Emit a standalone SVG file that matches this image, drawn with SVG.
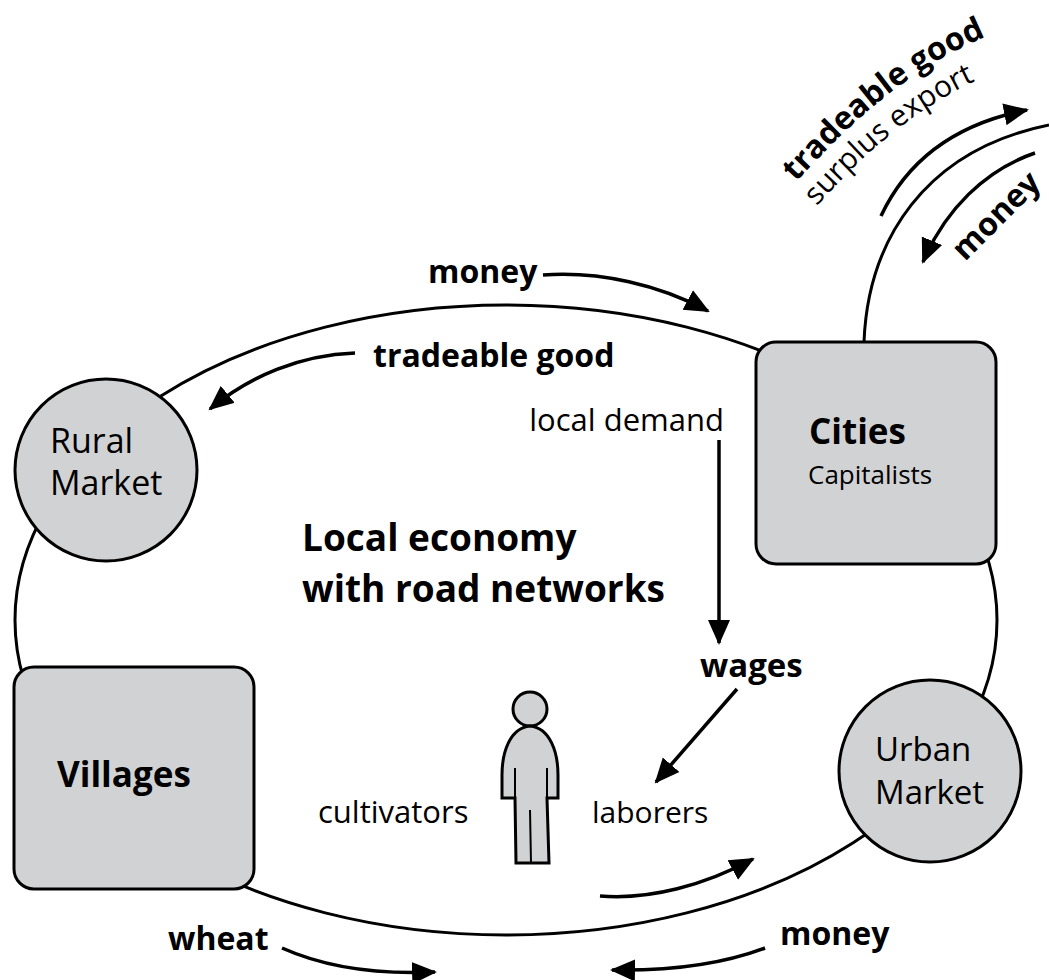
<svg xmlns="http://www.w3.org/2000/svg" width="1049" height="980" viewBox="0 0 1049 980">
<style>
.node{fill:#d1d2d4;stroke:#000;stroke-width:3}
.road{fill:none;stroke:#000;stroke-width:3}
.arr{fill:none;stroke:#000;stroke-width:3.5;marker-end:url(#ah)}
text{font-family:"Open Sans","Noto Sans","Liberation Sans",sans-serif;fill:#000}
.b{font-weight:bold}
.r{font-weight:normal}
</style>
<defs>
<marker id="ah" markerUnits="userSpaceOnUse" markerWidth="26" markerHeight="24" viewBox="0 0 26 24" refX="23" refY="12" orient="auto">
<path d="M0,1 L25,12 L0,23 Z" fill="#000"/>
</marker>
<path id="tgArc" d="M796,182 C841,134 902,68 1002,30"/>
<path id="seArc" d="M817,206 C853,166 910,106 1000,70"/>
</defs>
<rect width="1049" height="980" fill="#fff"/>
<g id="roads">
<ellipse class="road" cx="506" cy="620" rx="491" ry="315"/>
<path class="road" d="M864,342 C868,240 925,150 1049,125"/>
</g>
<g id="connectors">
<path class="arr" d="M543,275 C600,271 660,285 708,311"/>
<path class="arr" d="M355,353 C300,355 250,376 210,409"/>
<path class="arr" d="M719,440 L719,643"/>
<path class="arr" d="M737,689 L656,782"/>
<path class="arr" d="M600,896 C650,900 705,885 753,859"/>
<path class="arr" d="M282,948 C320,965 370,975 435,972"/>
<path class="arr" d="M765,948 C720,965 670,971 612,970"/>
<path class="arr" d="M881,216 C905,165 950,125 1027,110"/>
<path class="arr" d="M1035,153 C985,170 945,210 923,262"/>
</g>
<g id="rural-market">
<circle class="node" cx="106" cy="470" r="91"/>
<text class="r" x="50" y="453" font-size="34">Rural</text>
<text class="r" x="50" y="495" font-size="34">Market</text>
</g>
<g id="cities">
<rect class="node" x="756" y="342" width="240" height="222" rx="20"/>
<text class="b" x="809" y="444" font-size="35">Cities</text>
<text class="r" x="808" y="484" font-size="26">Capitalists</text>
</g>
<g id="villages">
<rect class="node" x="14" y="667" width="240" height="222" rx="20"/>
<text class="b" x="57" y="787" font-size="35">Villages</text>
</g>
<g id="urban-market">
<circle class="node" cx="930" cy="771" r="91"/>
<text class="r" x="875" y="761" font-size="33">Urban</text>
<text class="r" x="875" y="804" font-size="33">Market</text>
</g>
<g id="person">
<circle class="node" cx="530" cy="709" r="17" stroke-width="2"/>
<path class="node" stroke-width="2" d="M530,726 C510,728 502,752 502,775 L502,798 L515,798 L516,863 L549,863 L547,798 L558,798 L558,775 C558,752 550,728 530,726 Z"/>
<path fill="none" stroke="#000" stroke-width="2" d="M515,768 L515,798 M547,768 L547,798 M530,810 L531,863"/>
</g>
<g id="labels">
<text class="b" x="428" y="283" font-size="32">money</text>
<text class="b" x="373" y="367" font-size="32">tradeable good</text>
<text class="r" x="724" y="431" font-size="31" text-anchor="end">local demand</text>
<text class="b" x="302" y="551" font-size="37">Local economy</text>
<text class="b" x="302" y="602" font-size="37">with road networks</text>
<text class="b" x="700" y="677" font-size="33">wages</text>
<text class="r" x="318" y="823" font-size="31">cultivators</text>
<text class="r" x="592" y="823" font-size="30">laborers</text>
<text class="b" x="168" y="950" font-size="32">wheat</text>
<text class="b" x="780" y="945" font-size="32">money</text>
<text class="b" font-size="32"><textPath href="#tgArc">tradeable good</textPath></text>
<text class="r" font-size="30"><textPath href="#seArc">surplus export</textPath></text>
<text class="b" font-size="32" transform="translate(965,262) rotate(-45)">money</text>
</g>
</svg>
